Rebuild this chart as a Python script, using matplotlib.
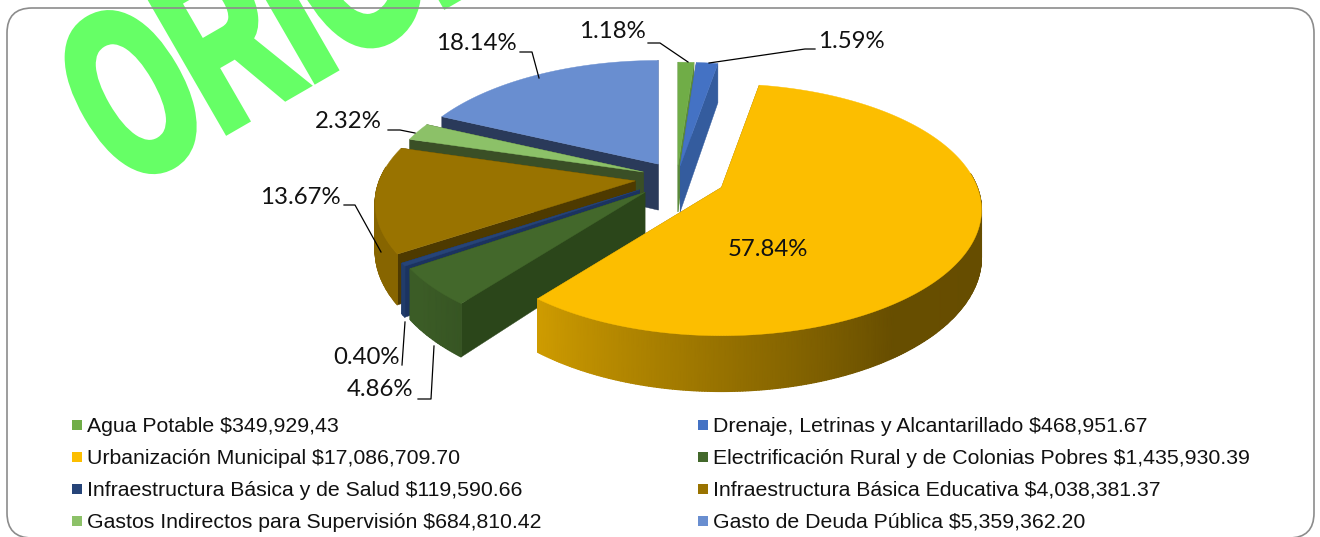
import numpy as np
import matplotlib
matplotlib.use("Agg")
import matplotlib.pyplot as plt
from matplotlib.patches import FancyBboxPatch, Polygon, Rectangle
from matplotlib.patheffects import AbstractPathEffect
from matplotlib.transforms import Affine2D

# Chart data, in the clockwise order of the slices starting at 12 o'clock
names = ["Agua Potable", "Drenaje, Letrinas y Alcantarillado", "Urbanización Municipal",
         "Electrificación Rural y de Colonias Pobres", "Infraestructura Básica y de Salud",
         "Infraestructura Básica Educativa", "Gastos Indirectos para Supervisión",
         "Gasto de Deuda Pública"]
amounts = ["$349,929,43", "$468,951.67", "$17,086,709.70", "$1,435,930.39",
           "$119,590.66", "$4,038,381.37", "$684,810.42", "$5,359,362.20"]
shares = [1.18, 1.59, 57.84, 4.86, 0.40, 13.67, 2.32, 18.14]
explode = [0.10, 0.10, 0.19, 0.171, 0.175, 0.165, 0.14, 0.135]

top_colors = ["#70AD47", "#4472C4", "#FCBE00", "#43682B", "#264478", "#997300", "#8CC168", "#698ED0"]
wall_colors = ["#5B8A3A", "#345C9E", "#8F6C00", "#2B461A", "#1B3360", "#4E3A00", "#3A4F26", "#2A3A5A"]

# Projection of the tilted pie, in image pixels
CX, CY = 677, 178
RX, RY = 256, 122
PERSP = 0.177
DEPTH = 46

# Rim brightness around the pie, by angle
shade_angle = [80, 145, 180, 218, 230, 300]
shade_value = [0.40, 0.41, 0.60, 0.82, 0.88, 0.88]


class Squeeze(AbstractPathEffect):
    # narrows and fattens the glyphs of a text, it stays a text
    def __init__(self, sx, width):
        super().__init__()
        self.sx = sx
        self.width = width

    def draw_path(self, renderer, gc, tpath, affine, rgbFace=None):
        gc0 = renderer.new_gc()
        gc0.copy_properties(gc)
        gc0.set_linewidth(self.width)
        gc0.set_foreground(rgbFace)
        gc0.set_joinstyle("miter")
        renderer.draw_path(gc0, tpath, Affine2D().scale(self.sx, 1) + affine, rgbFace)
        gc0.restore()


def rim_point(theta, ax0, ay0):
    u, v = np.sin(theta), -np.cos(theta)
    s = 1 / (1 - PERSP * v)
    return ax0 + u * s * RX, ay0 + v * s * RY, s


fig = plt.figure(figsize=(13.2, 5.37), dpi=100)
ax = fig.add_axes([0, 0, 1, 1])
ax.set_xlim(0, 1320)
ax.set_ylim(537, 0)
ax.axis("off")

# Watermark
wm = ax.text(124, 190, "ORIGINAL", family="Liberation Sans", weight="bold",
             fontsize=170, color="#66FF66", rotation=30, rotation_mode="anchor", ha="left", va="baseline",
             zorder=1, clip_on=True)
wm.set_path_effects([Squeeze(0.60, 6)])

# Frame
ax.add_patch(FancyBboxPatch((32, 33), 1257, 480, boxstyle="round,pad=25,rounding_size=25",
                            facecolor="none", edgecolor="#8C8C8C", linewidth=1.2, zorder=2))

# Slices, drawn from back to front
edges = np.radians(np.concatenate([[0], np.cumsum(shares)]) * 3.6)
z = 3
for i in [7, 6, 5, 4, 3, 0, 1, 2]:
    t0, t1 = edges[i], edges[i + 1]
    mid = (t0 + t1) / 2
    ax0 = CX + np.sin(mid) * explode[i] * RX
    ay0 = CY - np.cos(mid) * explode[i] * RY
    thetas = np.linspace(t0, t1, max(3, int(np.degrees(t1 - t0) * 2)))
    pts = [rim_point(t, ax0, ay0) for t in thetas]

    # cut walls
    for k in [0, -1]:
        x, y, s = pts[k]
        ax.add_patch(Polygon([(ax0, ay0), (x, y), (x, y + DEPTH * s), (ax0, ay0 + DEPTH)],
                             facecolor=wall_colors[i], edgecolor=wall_colors[i], linewidth=0.3, zorder=z))
    z += 1

    # outer rim, only where it faces the viewer
    base = np.array(matplotlib.colors.to_rgb(top_colors[i]))
    front = -np.cos(thetas) > -0.12
    if front.sum() > 1:
        rim = np.array(pts)[front]
        X = np.vstack([rim[:, 0], rim[:, 0]])
        Y = np.vstack([rim[:, 1], rim[:, 1] + DEPTH * rim[:, 2]])
        shade = np.interp(np.degrees(thetas[front]), shade_angle, shade_value)
        C = np.clip(np.outer(shade, base), 0, 1)
        ax.pcolormesh(X, Y, np.stack([C, C]), shading="gouraud", zorder=z)
    z += 1

    # top face
    ax.add_patch(Polygon([(ax0, ay0)] + [(p[0], p[1]) for p in pts], facecolor=top_colors[i],
                         edgecolor=top_colors[i], linewidth=0.3, zorder=z))
    z += 1

# Percentage labels and leader lines
label_pos = [(612, 31), (851, 41), (768, 249), (380, 390), (367, 358), (300, 197), (348, 122), (476, 43)]
leaders = [[(648, 43), (660, 43), (688, 62)], [(815, 49), (805, 49), (709, 63)], None,
           [(418, 399), (431, 399), (434, 346)], [(402, 365), (405, 322)],
           [(344, 205), (355, 205), (381, 252)], [(388, 130), (400, 130), (415, 133)],
           [(520, 52), (532, 52), (539, 78)]]
for share, pos, line in zip(shares, label_pos, leaders):
    ax.text(pos[0], pos[1], f"{share:.2f}%", family="Lato", fontsize=17.3, color="#111111",
            ha="center", va="center", zorder=60)
    if line:
        ax.plot(*zip(*line), color="black", lw=0.9, zorder=60)

# Legend
legend_x = [72, 698]
legend_y = [425, 457, 489, 521]
for i, (name, amount) in enumerate(zip(names, amounts)):
    x = legend_x[i % 2]
    y = legend_y[i // 2]
    ax.add_patch(Rectangle((x, y - 5), 10, 10, facecolor=top_colors[i], edgecolor="none", zorder=60))
    ax.text(x + 15, y + 1, f"{name} {amount}", family="Liberation Sans", fontsize=15.3, color="#111111",
            ha="left", va="center", zorder=60)

fig.savefig("out.png", dpi=100)
